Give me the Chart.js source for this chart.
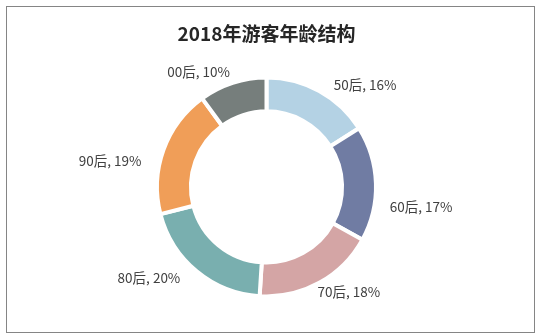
<!DOCTYPE html>
<html lang="zh-CN">
<head>
<meta charset="UTF-8">
<title>2018年游客年龄结构</title>
<style>
    html, body {
        margin: 0;
        padding: 0;
        background: #fff;
    }

    .frame {
        position: absolute;
        left: 6px;
        top: 6px;
        width: 529px;
        height: 327px;
        box-sizing: border-box;
        border: 1px solid #858585;
    }

    .chart-box {
        position: absolute;
        left: 0;
        top: 0;
        width: 542px;
        height: 336px;
    }
</style>
<script src="https://cdn.jsdelivr.net/npm/chart.js"></script>
</head>
<body>
<div class="frame"></div>
<div class="chart-box"><canvas id="ageChart"></canvas></div>

<script>
    const categories = ["50后", "60后", "70后", "80后", "90后", "00后"];
    const shares = [16, 17, 18, 20, 19, 10];
    const sliceColors = ["#b4d2e4", "#707ca3", "#d4a5a5", "#79afaf", "#f09e58", "#767e7c"];

    // where each data label sits: angle (deg, clockwise from top) and distance in outer radii
    const labelAngles = [44, 97.4, 142, 232.4, 279.6, 329.4];
    const labelDist = [1.32, 1.45, 1.245, 1.38, 1.475, 1.24];

    const FONT = "'Noto Sans CJK SC', 'Microsoft YaHei', sans-serif";

    // draws "类别, 百分比" labels around the ring
    const outsideLabels = {
        id: "outsideLabels",
        afterDatasetsDraw(chart) {
            const meta = chart.getDatasetMeta(0);
            const total = shares.reduce((a, b) => a + b, 0);
            const ctx = chart.ctx;
            ctx.save();
            ctx.font = "13.5px " + FONT;
            ctx.fillStyle = "#404040";
            ctx.textAlign = "center";
            ctx.textBaseline = "middle";
            meta.data.forEach((arc, i) => {
                const r = (arc.outerRadius - 2) * labelDist[i];
                const a = labelAngles[i] * Math.PI / 180;
                const x = arc.x + Math.sin(a) * r;
                const y = arc.y - Math.cos(a) * r;
                const pct = Math.round(shares[i] / total * 100);
                ctx.fillText(categories[i] + ", " + pct + "%", x, y);
            });
            ctx.restore();
        }
    };

    new Chart(document.getElementById("ageChart"), {
        type: "doughnut",
        data: {
            labels: categories,
            datasets: [{
                data: shares,
                backgroundColor: sliceColors,
                borderColor: "#ffffff",
                borderWidth: 4,
                hoverOffset: 0
            }]
        },
        options: {
            responsive: true,
            maintainAspectRatio: false,
            animation: false,
            radius: 109.5,
            cutout: "69%",
            layout: {
                padding: { left: 0, right: 9, top: 0, bottom: 7 }
            },
            plugins: {
                legend: { display: false },
                tooltip: { enabled: false },
                title: {
                    display: true,
                    text: "2018年游客年龄结构",
                    color: "#262626",
                    font: { family: FONT, size: 19, weight: "bold" },
                    padding: { top: 22, bottom: 0 }
                }
            }
        },
        plugins: [outsideLabels]
    });
</script>
</body>
</html>
